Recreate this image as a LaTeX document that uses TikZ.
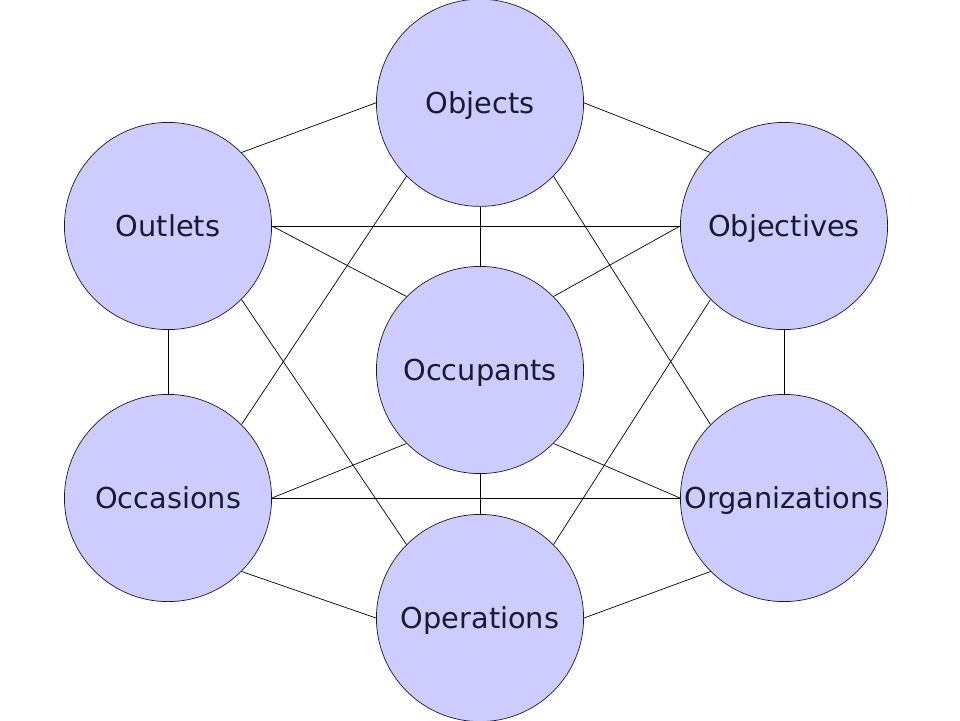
\documentclass[tikz,border=0pt]{standalone}
\usepackage{fontspec}
\setmainfont{DejaVu Sans}
\usepackage{xcolor}
\usepackage{tikz}
\usetikzlibrary{positioning}

\definecolor{topicfill}{HTML}{CCCCFF}
\definecolor{topicline}{HTML}{1A1A2E}

\begin{document}
\begin{tikzpicture}[topic/.style={draw=topicline, fill=topicfill, circle, minimum size=5.18cm, inner sep=0pt, text height=14.9pt, text depth=0pt, text=topicline, font=\fontsize{20.5}{24}\selectfont}, line width=0.5pt]
\useasboundingbox (0,0) rectangle (24,18);

\node[topic] (objects) at (12.00,15.43) {Objects};
\node[topic] (outlets) at (4.20,12.35) {Outlets};
\node[topic] (objectives) at (19.60,12.35) {Objectives};
\node[topic] (occupants) at (12.00,8.75) {Occupants};
\node[topic] (occasions) at (4.20,5.55) {Occasions};
\node[topic] (organizations) at (19.60,5.55) {Organizations};
\node[topic] (operations) at (12.00,2.55) {Operations};

% outer ring
\draw (objects.west) -- (outlets.north east);
\draw (objects.east) -- (objectives.north west);
\draw (outlets.south) -- (occasions.north);
\draw (objectives.south) -- (organizations.north);
\draw (occasions.south east) -- (operations.west);
\draw (organizations.south west) -- (operations.east);

% to the centre
\draw (objects.south) -- (occupants.north);
\draw (operations.north) -- (occupants.south);
\draw (outlets.east) -- (occupants.north west);
\draw (objectives.west) -- (occupants.north east);
\draw (occasions.east) -- (occupants.south west);
\draw (organizations.west) -- (occupants.south east);

% across
\draw (outlets.east) -- (objectives.west);
\draw (occasions.east) -- (organizations.west);
\draw (objects.south west) -- (occasions.north east);
\draw (objects.south east) -- (organizations.north west);
\draw (outlets.south east) -- (operations.north west);
\draw (objectives.south west) -- (operations.north east);

\end{tikzpicture}
\end{document}
